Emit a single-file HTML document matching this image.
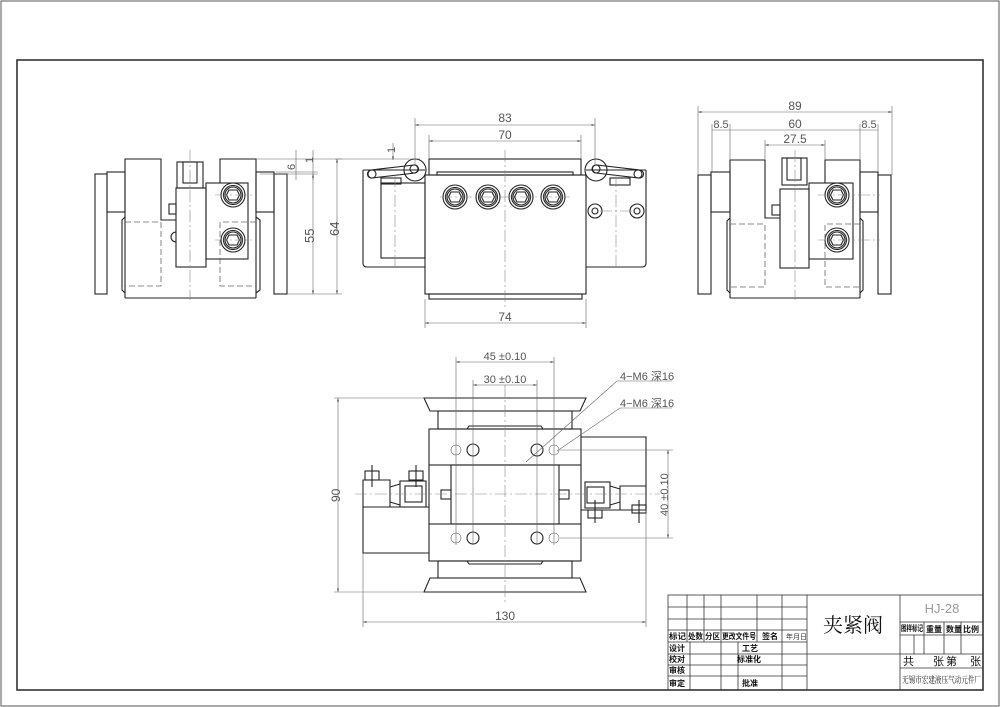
<!DOCTYPE html>
<html><head><meta charset="utf-8"><style>
html,body{margin:0;padding:0;background:#fff}
svg{display:block}
text{font-family:"Liberation Sans","Noto Sans CJK SC",sans-serif;fill:#555}
.k{fill:none;stroke:#222;stroke-width:1.1}
.h{fill:none;stroke:#666;stroke-width:0.8;stroke-dasharray:6 3}
.c{fill:none;stroke:#888;stroke-width:0.6;stroke-dasharray:12 3 2 3}
.d{fill:none;stroke:#666;stroke-width:0.6}
.t{fill:none;stroke:#333;stroke-width:0.8}
.cn{font-family:"Liberation Sans","Noto Sans CJK SC",sans-serif;fill:#111;font-weight:bold;font-size:8px}
</style></head><body>
<svg width="1000" height="707" viewBox="0 0 1000 707" xmlns="http://www.w3.org/2000/svg">
<defs>
<marker id="a" viewBox="0 0 10 10" refX="10" refY="5" markerWidth="6" markerHeight="6" orient="auto-start-reverse"><path d="M0,2 L10,5 L0,8z" fill="#555"/></marker>
<g id="bolt"><circle r="12" class="k"/><circle r="9.5" class="k"/><circle r="8" class="k"/><path d="M-4,-5 L4,-5 L6.5,0 L4,5 L-4,5 L-6.5,0Z" class="k"/></g>
</defs>
<rect x="1" y="1" width="998" height="705" fill="none" stroke="#555" stroke-width="1"/>
<rect x="17" y="60" width="966" height="630" fill="none" stroke="#333" stroke-width="1.6"/>

<!-- LEFT VIEW -->
<g>
<rect x="95" y="174" width="12" height="120" class="k" stroke-width="2"/>
<rect x="107" y="172" width="18" height="40" class="k"/>
<path d="M125,298 L125,159 L161,159 L161,220 L176,220" class="k"/>
<path d="M256,298 L256,159 L220,159 L220,183" class="k"/>
<path d="M125,217 L122,220 L122,290 L125,293 M256,217 L260,220 L260,290 L256,293" class="k"/>
<line x1="125" y1="298" x2="256" y2="298" class="k"/>
<rect x="256" y="172" width="18" height="40" class="k"/>
<rect x="274" y="174" width="13" height="120" class="k" stroke-width="2"/>
<rect x="177" y="162" width="26" height="26" class="k"/><rect x="183" y="162" width="14" height="21" class="k"/>
<rect x="176" y="188" width="30" height="79" class="k"/>
<rect x="206" y="183" width="42" height="76" class="k"/>
<rect x="169" y="204" width="7" height="10" class="k"/>
<path d="M176,232 A5,5 0 0,0 176,242" class="k"/>
<use href="#bolt" x="233" y="195"/><use href="#bolt" x="233" y="240"/>
<path d="M125,222 H161 V286 H125 M256,222 H220 V286 H256" class="h"/>
<line x1="190" y1="150" x2="190" y2="300" class="c"/>
<line x1="215" y1="195" x2="255" y2="195" class="c"/><line x1="215" y1="240" x2="255" y2="240" class="c"/>
<line x1="256" y1="159" x2="342" y2="159" class="d"/>
<line x1="276" y1="172" x2="318" y2="172" class="d"/>
<line x1="260" y1="174" x2="318" y2="174" class="d"/>
<line x1="287" y1="294" x2="342" y2="294" class="d"/>
<line x1="296" y1="150" x2="296" y2="180" class="d"/>
<line x1="313" y1="150" x2="313" y2="180" class="d"/>
<text x="0" y="0" font-size="11" transform="translate(295,170) rotate(-90)">6</text>
<text x="0" y="0" font-size="11" transform="translate(313,163) rotate(-90)">1</text>
<line x1="313" y1="174" x2="313" y2="294" class="d" marker-start="url(#a)" marker-end="url(#a)"/>
<text font-size="13" transform="translate(314,243) rotate(-90)">55</text>
<line x1="337" y1="159" x2="337" y2="294" class="d" marker-start="url(#a)" marker-end="url(#a)"/>
<text font-size="13" transform="translate(339,236) rotate(-90)">64</text>
</g>

<!-- MIDDLE VIEW -->
<g>
<path d="M363,170 H425 M363,170 V263 Q363,267 367,267 H425" class="k"/>
<rect x="381" y="183" width="44" height="75" class="k"/>
<path d="M646,170 H586 M646,170 V263 Q646,267 642,267 H586" class="k"/>
<rect x="429" y="159" width="152" height="16" class="k"/>
<rect x="437" y="172" width="136" height="3" class="k"/>
<rect x="425" y="175" width="161" height="119" class="k"/>
<rect x="429" y="294" width="153" height="5" class="k"/>
<circle cx="415" cy="170" r="11" class="k" fill="#fff"/>
<circle cx="596" cy="170" r="11" class="k" fill="#fff"/>
<path d="M371,170 L414,165 A4,4 0 0,1 415,173 L372,178 A4,4 0 0,1 371,170Z" class="k" fill="#fff"/>
<circle cx="372" cy="174" r="4" class="k"/><circle cx="414" cy="169" r="4" class="k"/>
<path d="M640,170 L597,165 A4,4 0 0,0 596,173 L639,178 A4,4 0 0,0 640,170Z" class="k" fill="#fff"/>
<circle cx="638" cy="174" r="4" class="k"/><circle cx="596" cy="169" r="4" class="k"/>
<rect x="381" y="178" width="20" height="6" class="k"/>
<rect x="610" y="178" width="20" height="7" class="k"/>
<use href="#bolt" x="455" y="197"/>
<use href="#bolt" x="488" y="197"/><use href="#bolt" x="521" y="197"/><use href="#bolt" x="553" y="197"/>
<circle cx="595" cy="211" r="7" class="k"/><circle cx="595" cy="211" r="3" class="k"/>
<circle cx="637" cy="211" r="7" class="k"/><circle cx="637" cy="211" r="3" class="k"/>
<line x1="440" y1="197" x2="570" y2="197" class="c"/>
<line x1="505" y1="150" x2="505" y2="310" class="c"/>
<line x1="395" y1="175" x2="395" y2="270" class="c"/>
<line x1="616" y1="175" x2="616" y2="270" class="c"/>
<line x1="600" y1="211" x2="632" y2="211" class="c"/>
<line x1="415" y1="118" x2="415" y2="165" class="d"/><line x1="595" y1="118" x2="595" y2="165" class="d"/>
<line x1="415" y1="125" x2="595" y2="125" class="d" marker-start="url(#a)" marker-end="url(#a)"/>
<text x="505" y="122" font-size="12" text-anchor="middle">83</text>
<line x1="429" y1="135" x2="429" y2="159" class="d"/><line x1="581" y1="135" x2="581" y2="159" class="d"/>
<line x1="429" y1="141" x2="581" y2="141" class="d" marker-start="url(#a)" marker-end="url(#a)"/>
<text x="505" y="139" font-size="12" text-anchor="middle">70</text>
<line x1="425" y1="299" x2="425" y2="328" class="d"/><line x1="586" y1="299" x2="586" y2="328" class="d"/>
<line x1="425" y1="323" x2="586" y2="323" class="d" marker-start="url(#a)" marker-end="url(#a)"/>
<text x="505" y="321" font-size="12" text-anchor="middle">74</text>
<line x1="393" y1="143" x2="393" y2="160" class="d" marker-end="url(#a)"/>
<line x1="335" y1="159" x2="420" y2="159" class="d"/>
<text font-size="11" transform="translate(395,153) rotate(-90)">1</text>
</g>

<!-- RIGHT VIEW -->
<g>
<rect x="698" y="175" width="13" height="119" class="k" stroke-width="2"/>
<rect x="711" y="172" width="19" height="40" class="k"/>
<path d="M730,298 V160 H765 V218 H780" class="k"/>
<path d="M860,298 V160 H825 V183" class="k"/>
<path d="M730,218 L727,221 V290 L730,293 M860,218 L863,221 V290 L860,293" class="k"/>
<line x1="730" y1="298" x2="860" y2="298" class="k"/>
<rect x="860" y="172" width="18" height="40" class="k"/>
<rect x="878" y="175" width="13" height="119" class="k" stroke-width="2"/>
<rect x="782" y="158" width="25" height="27" class="k"/><rect x="787" y="158" width="14" height="22" class="k"/>
<rect x="780" y="189" width="29" height="79" class="k"/>
<rect x="809" y="183" width="44" height="76" class="k"/>
<rect x="772" y="205" width="8" height="10" class="k"/>
<use href="#bolt" x="837" y="195"/><use href="#bolt" x="837" y="240"/>
<path d="M730,224 H765 V287 H730 M860,224 H825 V287 H860" class="h"/>
<line x1="795" y1="150" x2="795" y2="300" class="c"/>
<line x1="818" y1="195" x2="880" y2="195" class="c"/><line x1="818" y1="240" x2="880" y2="240" class="c"/>
<line x1="698" y1="106" x2="698" y2="175" class="d"/><line x1="892" y1="106" x2="892" y2="175" class="d"/>
<line x1="698" y1="112" x2="892" y2="112" class="d" marker-start="url(#a)" marker-end="url(#a)"/>
<text x="795" y="110" font-size="12" text-anchor="middle">89</text>
<line x1="712" y1="124" x2="712" y2="172" class="d"/><line x1="730" y1="124" x2="730" y2="160" class="d"/>
<line x1="860" y1="124" x2="860" y2="160" class="d"/><line x1="878" y1="124" x2="878" y2="172" class="d"/>
<line x1="712" y1="130" x2="878" y2="130" class="d"/>
<text x="721" y="128" font-size="11" text-anchor="middle">8.5</text>
<text x="795" y="128" font-size="12" text-anchor="middle">60</text>
<text x="869" y="128" font-size="11" text-anchor="middle">8.5</text>
<line x1="765" y1="140" x2="765" y2="160" class="d"/><line x1="825" y1="140" x2="825" y2="160" class="d"/>
<line x1="765" y1="145" x2="825" y2="145" class="d" marker-start="url(#a)" marker-end="url(#a)"/>
<text x="795" y="143" font-size="12" text-anchor="middle">27.5</text>
</g>

<!-- BOTTOM VIEW -->
<g>
<path d="M424,398 L586,398 L580,411 L430,411Z" class="k"/>
<rect x="438" y="411" width="134" height="18" class="k"/>
<path d="M467,429 L469,426 H541 L543,429" class="k"/>
<rect x="429" y="429" width="152" height="36" class="k"/>
<rect x="451" y="465" width="108" height="59" class="k"/>
<line x1="429" y1="465" x2="429" y2="524" class="k"/><line x1="581" y1="465" x2="581" y2="524" class="k"/>
<rect x="429" y="524" width="152" height="37" class="k"/>
<path d="M467,561 L469,564 H541 L543,561" class="k"/>
<rect x="438" y="561" width="134" height="17" class="k"/>
<path d="M430,578 L580,578 L586,592 L424,592Z" class="k"/>
<rect x="441" y="490" width="10" height="9" class="k"/><rect x="559" y="490" width="10" height="9" class="k"/>
<path d="M581,437 H646 V486 M581,510 H646" class="k"/>
<rect x="585" y="482" width="25" height="26" class="k"/>
<rect x="587" y="487" width="17" height="16" class="k"/>
<path d="M610,486 L620,489 L620,502 L610,505 M620,486 H646 V510 H620 Z" class="k"/>
<rect x="588" y="510" width="14" height="8" class="k"/><rect x="632" y="505" width="14" height="8" class="k"/>
<line x1="595" y1="500" x2="595" y2="523" class="k"/><line x1="639" y1="500" x2="639" y2="523" class="k"/>
<path d="M429,507 H363 V553 H429" class="k"/>
<rect x="400" y="481" width="26" height="26" class="k"/>
<rect x="405" y="486" width="17" height="16" class="k"/>
<path d="M400,484 L390,487 L390,502 L400,505 M390,480 H363 V507 H390 Z" class="k"/>
<rect x="365" y="471" width="14" height="9" class="k"/><rect x="409" y="471" width="14" height="9" class="k"/>
<line x1="372" y1="465" x2="372" y2="487" class="k"/><line x1="416" y1="465" x2="416" y2="487" class="k"/>
<circle cx="473" cy="450" r="6" class="k"/><circle cx="537" cy="450" r="6" class="k"/>
<circle cx="473" cy="538" r="6" class="k"/><circle cx="537" cy="538" r="6" class="k"/>
<circle cx="456" cy="450" r="5" class="d"/><circle cx="554" cy="450" r="5" class="d"/>
<circle cx="456" cy="538" r="5" class="d"/><circle cx="554" cy="538" r="5" class="d"/>
<line x1="505" y1="385" x2="505" y2="605" class="c"/>
<line x1="355" y1="494" x2="660" y2="494" class="c"/>
<line x1="456" y1="357" x2="456" y2="545" class="d"/><line x1="554" y1="357" x2="554" y2="545" class="d"/>
<line x1="456" y1="362" x2="554" y2="362" class="d" marker-start="url(#a)" marker-end="url(#a)"/>
<text x="505" y="360" font-size="11" text-anchor="middle">45 ±0.10</text>
<line x1="473" y1="380" x2="473" y2="545" class="d"/><line x1="537" y1="380" x2="537" y2="545" class="d"/>
<line x1="473" y1="385" x2="537" y2="385" class="d" marker-start="url(#a)" marker-end="url(#a)"/>
<text x="505" y="383" font-size="11" text-anchor="middle">30 ±0.10</text>
<line x1="334" y1="398" x2="424" y2="398" class="d"/><line x1="334" y1="592" x2="424" y2="592" class="d"/>
<line x1="338" y1="398" x2="338" y2="592" class="d" marker-start="url(#a)" marker-end="url(#a)"/>
<text font-size="12" transform="translate(340,502) rotate(-90)">90</text>
<line x1="363" y1="553" x2="363" y2="627" class="d"/><line x1="646" y1="510" x2="646" y2="627" class="d"/>
<line x1="363" y1="622" x2="646" y2="622" class="d" marker-start="url(#a)" marker-end="url(#a)"/>
<text x="505" y="620" font-size="12" text-anchor="middle">130</text>
<line x1="560" y1="450" x2="673" y2="450" class="d"/><line x1="560" y1="538" x2="673" y2="538" class="d"/>
<line x1="668" y1="450" x2="668" y2="538" class="d" marker-start="url(#a)" marker-end="url(#a)"/>
<text font-size="11" transform="translate(668,516) rotate(-90)">40 ±0.10</text>
<path d="M526,462 L617,381 H672" class="d"/>
<path d="M557,451 L620,408 H672" class="d"/>
<text x="620" y="380" font-size="11">4−M6 深16</text>
<text x="620" y="407" font-size="11">4−M6 深16</text>
</g>

<!-- TITLE BLOCK -->
<g>
<rect x="668" y="595" width="315" height="95" class="t" stroke-width="1.4"/>
<line x1="668" y1="607" x2="807" y2="607" class="t"/>
<line x1="668" y1="619" x2="807" y2="619" class="t"/>
<line x1="668" y1="630" x2="807" y2="630" class="t"/>
<line x1="668" y1="642" x2="807" y2="642" class="t"/>
<line x1="668" y1="654" x2="807" y2="654" class="t"/>
<line x1="668" y1="665" x2="807" y2="665" class="t"/>
<line x1="668" y1="676" x2="807" y2="676" class="t"/>
<line x1="687" y1="595" x2="687" y2="642" class="t"/>
<line x1="704" y1="595" x2="704" y2="642" class="t"/>
<line x1="721" y1="595" x2="721" y2="690" class="t"/>
<line x1="757" y1="595" x2="757" y2="642" class="t"/>
<line x1="782" y1="595" x2="782" y2="690" class="t"/>
<line x1="690" y1="642" x2="690" y2="690" class="t"/>
<line x1="738" y1="642" x2="738" y2="690" class="t"/>
<line x1="807" y1="595" x2="807" y2="690" class="t"/>
<line x1="807" y1="654" x2="900" y2="654" class="t"/>
<line x1="900" y1="595" x2="900" y2="690" class="t"/>
<line x1="900" y1="622" x2="983" y2="622" class="t"/>
<line x1="900" y1="635" x2="983" y2="635" class="t"/>
<line x1="900" y1="654" x2="983" y2="654" class="t"/>
<line x1="900" y1="668" x2="983" y2="668" class="t"/>
<line x1="924" y1="622" x2="924" y2="654" class="t"/>
<line x1="944" y1="622" x2="944" y2="654" class="t"/>
<line x1="961" y1="622" x2="961" y2="654" class="t"/>
<line x1="914" y1="635" x2="914" y2="654" class="t"/>
<text x="853" y="632" font-size="20" text-anchor="middle" style="fill:#111;font-family:'Liberation Serif','Noto Serif CJK SC',serif">夹紧阀</text>
<text x="942" y="613" font-size="13" text-anchor="middle" style="fill:#999">HJ-28</text>
<text x="901" y="631" class="cn" font-size="5" textLength="22" lengthAdjust="spacingAndGlyphs">图样标记</text>
<text x="926" y="632" class="cn" font-size="8">重量</text>
<text x="946" y="632" class="cn" font-size="8">数量</text>
<text x="963" y="632" class="cn" font-size="8">比例</text>
<text x="903" y="665" font-size="11" style="fill:#111">共</text>
<text x="933" y="665" font-size="11" style="fill:#111">张</text>
<text x="946" y="665" font-size="11" style="fill:#111">第</text>
<text x="970" y="665" font-size="11" style="fill:#111">张</text>
<text x="902" y="683" font-size="9" textLength="79" lengthAdjust="spacingAndGlyphs" style="fill:#111;font-family:'Liberation Serif','Noto Serif CJK SC',serif">无锡市宏建液压气动元件厂</text>
<text x="669" y="639" class="cn" font-size="7" textLength="17" lengthAdjust="spacingAndGlyphs">标记</text>
<text x="688" y="639" class="cn" font-size="7" textLength="15" lengthAdjust="spacingAndGlyphs">处数</text>
<text x="705" y="639" class="cn" font-size="7" textLength="15" lengthAdjust="spacingAndGlyphs">分区</text>
<text x="722" y="639" class="cn" font-size="7" textLength="34" lengthAdjust="spacingAndGlyphs">更改文件号</text>
<text x="762" y="639" class="cn" font-size="7">签名</text>
<text x="786" y="639" font-size="7" style="fill:#333">年月日</text>
<text x="669" y="651" class="cn" font-size="7">设计</text>
<text x="742" y="651" class="cn" font-size="7">工艺</text>
<text x="669" y="662" class="cn" font-size="7">校对</text>
<text x="737" y="662" class="cn" font-size="7">标准化</text>
<text x="669" y="673" class="cn" font-size="7">审核</text>
<text x="669" y="686" class="cn" font-size="7">审定</text>
<text x="742" y="686" class="cn" font-size="7">批准</text>
</g>
</svg>
</body></html>
